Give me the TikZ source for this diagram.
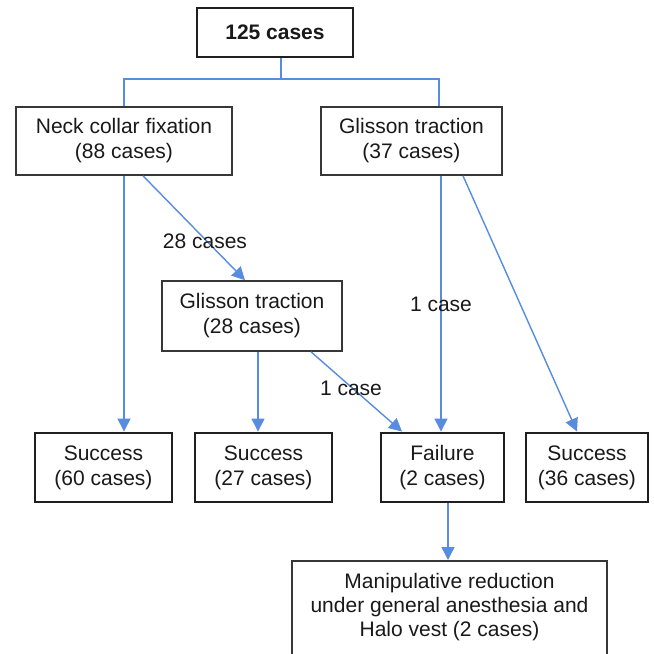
\documentclass[tikz,border=0pt]{standalone}
\usepackage{fontspec}
\setmainfont{Liberation Sans}
\usetikzlibrary{arrows.meta,calc}
\definecolor{linkblue}{RGB}{88,140,222}
\definecolor{boxgray}{RGB}{55,55,55}
\tikzset{
  thinbox/.style={draw=boxgray,line width=1.6pt,fill=white,align=center,inner sep=0pt,font=\fontsize{21}{25}\selectfont,text=black!90},
  thickbox/.style={draw=black!88,line width=2.9pt,fill=white,align=center,inner sep=0pt,font=\fontsize{21}{25}\selectfont,text=black!90},
  link/.style={draw=linkblue,line width=1.4pt},
  arrowlink/.style={link,-{Triangle[length=13pt,width=13pt]}},
  lbl/.style={font=\fontsize{21}{25}\selectfont,text=black!90,inner sep=0pt}
}
\begin{document}
\begin{tikzpicture}[x=1pt,y=-1pt]
\useasboundingbox (0,0) rectangle (654,654);
\node[thickbox,line width=2.2pt,minimum width=156pt,minimum height=49pt,font=\fontsize{21}{25}\selectfont\bfseries] (top) at (275,32.5) {125 cases};
\node[thinbox,minimum width=216pt,minimum height=68pt] (neck) at (124,141) {Neck collar fixation\\(88 cases)};
\node[thinbox,minimum width=181pt,minimum height=68pt] (gr) at (411.5,141) {Glisson traction\\(37 cases)};
\node[thinbox,minimum width=180pt,minimum height=70pt] (g28) at (252,316) {Glisson traction\\(28 cases)};
\node[thickbox,minimum width=137pt,minimum height=69pt] (s60) at (103.5,467.5) {Success\\(60 cases)};
\node[thickbox,minimum width=137pt,minimum height=69pt] (s27) at (263.5,467.5) {Success\\(27 cases)};
\node[thickbox,minimum width=123pt,minimum height=69pt] (fail) at (442.5,467.5) {Failure\\(2 cases)};
\node[thickbox,minimum width=122pt,minimum height=69pt] (s36) at (587,467.5) {Success\\(36 cases)};
\node[thinbox,minimum width=315pt,minimum height=110pt,anchor=north] (halo) at (449.5,560) {};
\node[lbl,align=center,font=\fontsize{21}{24}\selectfont] (halotext) at (449.5,607) {Manipulative reduction\\under general anesthesia and\\Halo vest (2 cases)};
% connectors
\coordinate (split) at (281,79);
\draw[link] ([xshift=6pt]top.south) -- (split);
\draw[link] (split) -| (neck.north);
\draw[link] (split) -| ([xshift=27.5pt]gr.north);
\draw[arrowlink] (neck.south) -- (neck.south |- s60.north);
\draw[arrowlink] ([xshift=19pt]neck.south) -- ([xshift=-7pt]g28.north);
\draw[arrowlink] ([xshift=6pt]g28.south) -- ([xshift=6pt]g28.south |- s27.north);
\draw[arrowlink] ([xshift=59pt]g28.south) -- ([xshift=-40.5pt]fail.north);
\draw[arrowlink] ([xshift=29.5pt]gr.south) -- ([xshift=29.5pt]gr.south |- fail.north);
\draw[arrowlink] ([xshift=51.5pt]gr.south) -- ([xshift=-10pt]s36.north);
\draw[arrowlink] ([xshift=5.5pt]fail.south) -- ([xshift=5.5pt]fail.south |- halo.north);
% labels
\node[lbl] (l28) at (205,241) {28 cases};
\node[lbl] (l1a) at (441,304) {1 case};
\node[lbl] (l1b) at (351,388) {1 case};
\end{tikzpicture}
\end{document}
